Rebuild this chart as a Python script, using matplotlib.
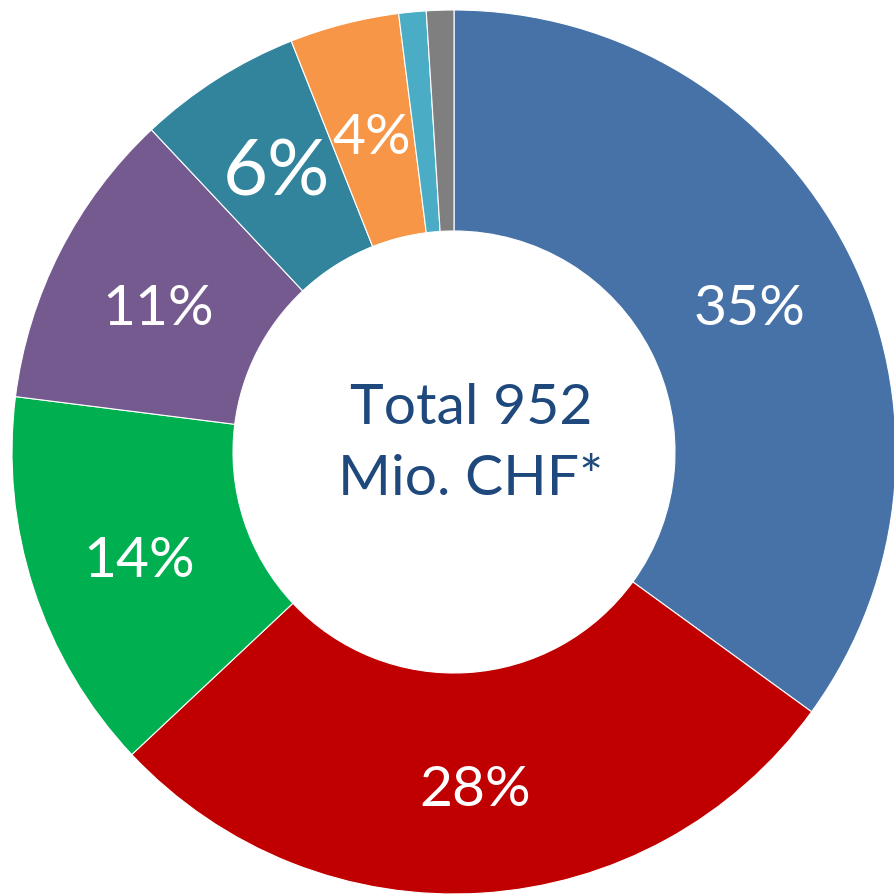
import matplotlib
matplotlib.use("Agg")
import matplotlib.pyplot as plt
import numpy as np

categories = ["A", "B", "C", "D", "E", "F", "G", "H"]
values = [35, 28, 14, 11, 6, 4, 1, 1]
labels = ["35%", "28%", "14%", "11%", "6%", "4%", "", ""]
colors = ["#4672A8", "#C00000", "#00B050", "#745A8E", "#31849B", "#F79646", "#4BACC6", "#7F7F7F"]
label_sizes = [41, 41, 41, 41, 56, 41, 41, 41]
center_text = "Total 952\nMio. CHF*"

plt.rcParams['font.family'] = ['Lato', 'DejaVu Sans']

fig = plt.figure(figsize=(8.95, 8.94), dpi=100)
ax = fig.add_axes([0, 0, 1, 1])
R = 442.0
cx, cy = 454.0, 452.0
W, H = 895.0, 894.0

wedges, _ = ax.pie(values, colors=colors, startangle=90, counterclock=False,
                   radius=1.0, wedgeprops=dict(width=0.5, edgecolor='white', linewidth=0.8))

total = sum(values)
cum = 0
for v, lab, fs in zip(values, labels, label_sizes):
    mid = (cum + v / 2) / total * 2 * np.pi
    cum += v
    if not lab:
        continue
    r = 0.75
    x = r * np.sin(mid)
    y = r * np.cos(mid) - 23.0 / R
    ax.text(x, y, lab, ha='center', va='baseline', color='white', fontsize=fs)

ax.text(17 / R, 0.018, center_text, ha='center', va='center', color='#1F497D',
        fontsize=41, linespacing=1.5)

ax.set_xlim(-cx / R, (W - cx) / R)
ax.set_ylim(-(H - cy) / R, cy / R)
ax.set_aspect('auto')
ax.axis('off')
fig.savefig("out.png", dpi=100, facecolor='white')
